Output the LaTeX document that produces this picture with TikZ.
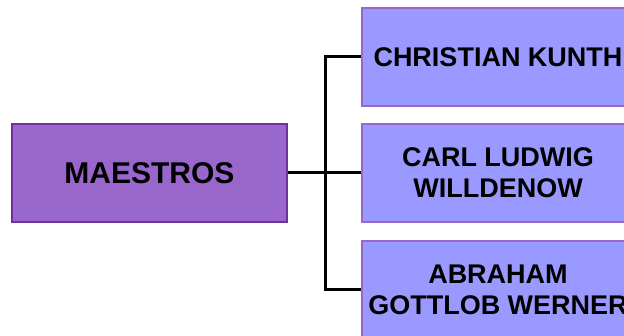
\documentclass[tikz,border=0pt]{standalone}
\usepackage{fontspec}
\setmainfont{Liberation Sans}
\usepackage{tikz}
\definecolor{mainfill}{HTML}{9966CC}
\definecolor{mainline}{HTML}{7030A0}
\definecolor{namefill}{HTML}{9999FF}
\definecolor{nameline}{HTML}{9966CC}
\begin{document}
\begin{tikzpicture}[x=1pt, y=-1pt,
		main_style/.style={rectangle,draw=mainline,fill=mainfill,line width=2pt,minimum width=275pt,minimum height=98pt,font=\fontsize{30}{34}\selectfont\bfseries},
		name_style/.style={rectangle,draw=nameline,fill=namefill,line width=2pt,minimum width=272pt,minimum height=98pt,align=center,font=\fontsize{27}{31}\selectfont\bfseries},
		edge_style/.style={draw=black,line width=3pt}]
		\useasboundingbox (0,0) rectangle (624,336);

		\node[main_style] (maestros) at (149.5,173) {MAESTROS};
		\node[name_style] (kunth) at (498,57) {CHRISTIAN KUNTH};
		\node[name_style] (willdenow) at (498,173) {CARL LUDWIG\\WILLDENOW};
		\node[name_style] (werner) at (498,290) {ABRAHAM\\GOTTLOB WERNER};
		\coordinate (fork) at (325,173);

		\draw[edge_style]  (maestros) -- (fork);
		\draw[edge_style]  (fork) |- (kunth);
		\draw[edge_style]  (fork) -- (willdenow);
		\draw[edge_style]  (fork) |- (werner);
\end{tikzpicture}
\end{document}
